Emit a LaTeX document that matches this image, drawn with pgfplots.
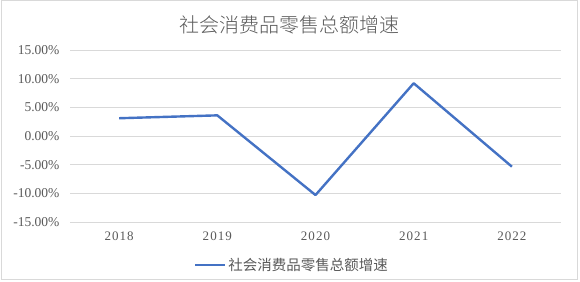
\documentclass[border=0pt]{standalone}
\usepackage{pgfplots}
\pgfplotsset{compat=1.18}
\usepackage{fontspec}
\setmainfont{Liberation Serif}
\newfontfamily\cjk{Noto Sans CJK SC}
\newfontfamily\cjklight{Noto Sans CJK SC}[UprightFont={* Light}]
\newfontfamily\tickfont[LetterSpace=8]{Liberation Serif}
\definecolor{txtgray}{HTML}{595959}
\definecolor{gridgray}{HTML}{D9D9D9}
\definecolor{lineblue}{HTML}{4472C4}
\begin{document}
\begin{tikzpicture}[x=1pt,y=1pt]
\path[use as bounding box] (0,0) rectangle (580,281);
\draw[gridgray, line width=1pt] (1,2) rectangle (577,280);
\node[text=txtgray, font=\cjklight\fontsize{20}{20}\selectfont] at (289,256) {社会消费品零售总额增速};
\begin{axis}[
  at={(70pt,59pt)}, anchor=south west,
  width=491pt, height=172pt, scale only axis,
  xmin=-0.5, xmax=4.5, ymin=-15, ymax=15,
  xtick={0,1,2,3,4},
  xticklabels={2018,2019,2020,2021,2022},
  ytick={-15,-10,-5,0,5,10,15},
  yticklabel={\pgfmathprintnumber[fixed,fixed zerofill,precision=2]{\tick}\%},
  /pgf/number format/assume math mode=true,
  axis line style={draw=none},
  major tick length=0pt,
  ymajorgrids,
  grid style={gridgray, line width=0.8pt},
  yticklabel style={text=txtgray, font=\fontsize{13.5}{13.5}\selectfont, anchor=east, xshift=-7pt},
  xticklabel style={text=txtgray, font=\tickfont\fontsize{13}{13}\selectfont, yshift=-6pt},
  legend style={at={(0.452,-0.25)}, anchor=center, draw=none, fill=none,
    font=\cjk\fontsize{14.5}{14.5}\selectfont, text=txtgray,
    legend cell align=left},
  legend image code/.code={\draw[#1, line width=2.4pt] (0pt,0pt) -- (30pt,0pt);},
]
\addplot[lineblue, line width=2.4pt, line join=round, mark=none]
  coordinates {(0,3.1) (1,3.6) (2,-10.3) (3,9.2) (4,-5.35)};
\addlegendentry{社会消费品零售总额增速}
\end{axis}
\end{tikzpicture}
\end{document}
